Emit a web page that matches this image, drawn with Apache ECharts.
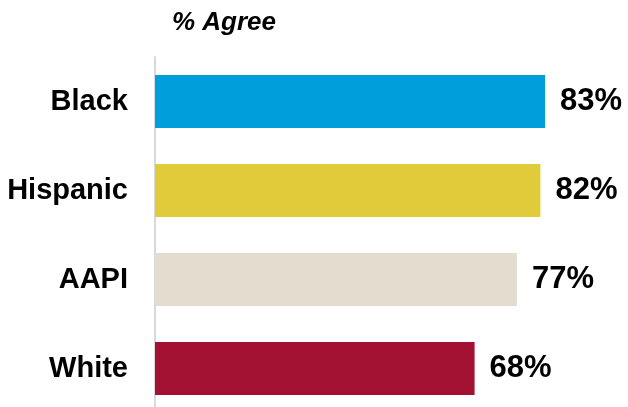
<!DOCTYPE html>
<html><head><meta charset="utf-8">
<script src="https://cdn.jsdelivr.net/npm/echarts@6/dist/echarts.min.js"></script>
<style>html,body{margin:0;padding:0;background:#fff}#c{width:628px;height:407px}</style>
</head><body><div id="c"></div>
<script>
const categories = ["Black", "Hispanic", "AAPI", "White"];
const values = [83, 82, 77, 68];
const barColors = ["#009FDB", "#E0CB3B", "#E3DDCF", "#A31133"];
const titleText = "% Agree";

const chart = echarts.init(document.getElementById('c'));
chart.setOption({
  animation: false,
  title: {
    text: titleText, left: 167, top: 5,
    textStyle: { fontFamily: 'Liberation Sans, Arial', fontSize: 26, fontWeight: 'bold', fontStyle: 'italic', color: '#000' }
  },
  grid: { left: 155, width: 470, top: 57, height: 356, containLabel: false, outerBoundsMode: 'none' },
  xAxis: { type: 'value', min: 0, max: 100, show: false },
  yAxis: {
    type: 'category', data: categories, inverse: true, offset: 1,
    axisLine: { show: true, lineStyle: { color: '#D9D9D9', width: 2 } },
    axisTick: { show: false },
    axisLabel: { margin: 26, color: '#000', fontFamily: 'Liberation Sans, Arial', fontSize: 29, fontWeight: 'bold' }
  },
  series: [{
    type: 'bar', barWidth: 53,
    data: values.map((v, i) => ({ value: v, itemStyle: { color: barColors[i] } })),
    label: {
      show: true, position: 'right', distance: 15, formatter: '{c}%',
      color: '#000', fontFamily: 'Liberation Sans, Arial', fontSize: 31, fontWeight: 'bold'
    }
  }]
});
</script></body></html>
